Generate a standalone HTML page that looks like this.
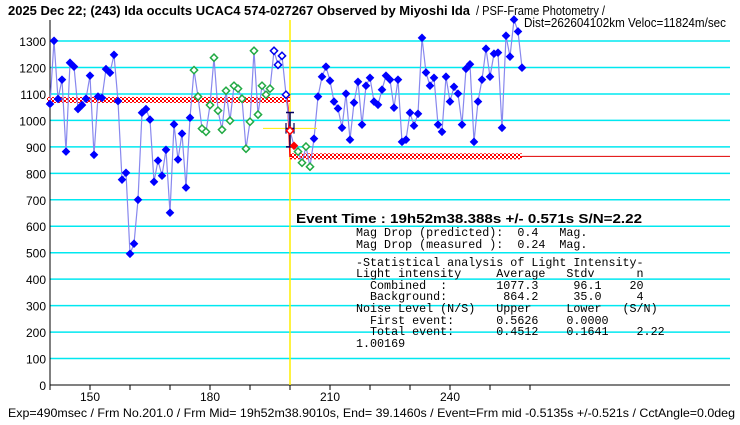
<!DOCTYPE html>
<html><head><meta charset="utf-8">
<style>
html,body{margin:0;padding:0;background:#fff;}
svg{display:block;font-family:"Liberation Sans",sans-serif;}
.mono{font-family:"Liberation Mono",monospace;font-size:11.7px;}
</style></head>
<body>
<svg id="chart" width="740" height="425" viewBox="0 0 740 425">
<text x="8" y="15" font-size="13" font-weight="bold" textLength="462" lengthAdjust="spacingAndGlyphs">2025 Dec 22; (243) Ida occults UCAC4 574-027267 Observed by Miyoshi Ida</text>
<text x="476" y="15" font-size="12.5" textLength="129" lengthAdjust="spacingAndGlyphs">/ PSF-Frame Photometry /</text>
<text x="524" y="27" font-size="12.5" textLength="202" lengthAdjust="spacingAndGlyphs">Dist=262604102km Veloc=11824m/sec</text>
<g id="grid"></g>
<g id="axes"></g>
<g id="levels"></g>
<g id="series"></g>
<g id="info">
<text x="296" y="223" font-size="13" font-weight="bold" textLength="346" lengthAdjust="spacingAndGlyphs">Event Time : 19h52m38.388s  +/- 0.571s  S/N=2.22</text>
<text class="mono" x="356" y="236" xml:space="preserve">Mag Drop (predicted):  0.4   Mag.</text>
<text class="mono" x="356" y="248" xml:space="preserve">Mag Drop (measured ):  0.24  Mag.</text>
<text class="mono" x="356" y="266" xml:space="preserve">-Statistical analysis of Light Intensity-</text>
<text class="mono" x="356" y="277" xml:space="preserve">Light intensity     Average   Stdv      n</text>
<text class="mono" x="356" y="289" xml:space="preserve">  Combined  :       1077.3     96.1    20</text>
<text class="mono" x="356" y="300" xml:space="preserve">  Background:        864.2     35.0     4</text>
<text class="mono" x="356" y="312" xml:space="preserve">Noise Level (N/S)   Upper     Lower   (S/N)</text>
<text class="mono" x="356" y="324" xml:space="preserve">  First event:      0.5626    0.0000</text>
<text class="mono" x="356" y="335" xml:space="preserve">  Total event:      0.4512    0.1641    2.22</text>
<text class="mono" x="356" y="347" xml:space="preserve">1.00169</text>
</g>
<text x="8" y="417" font-size="12" textLength="727" lengthAdjust="spacingAndGlyphs">Exp=490msec / Frm No.201.0 / Frm Mid= 19h52m38.9010s,  End= 39.1460s / Event=Frm mid -0.5135s +/-0.521s / CctAngle=0.0deg</text>
</svg>
<script>
const frames = [140,141,142,143,144,145,146,147,148,149,150,151,152,153,154,155,156,157,158,159,160,161,162,163,164,165,166,167,168,169,170,171,172,173,174,175,176,177,178,179,180,181,182,183,184,185,186,187,188,189,190,191,192,193,194,195,196,197,198,199,200,201,202,203,204,205,206,207,208,209,210,211,212,213,214,215,216,217,218,219,220,221,222,223,224,225,226,227,228,229,230,231,232,233,234,235,236,237,238,239,240,241,242,243,244,245,246,247,248,249,250,251,252,253,254,255,256,257,258];
const intensity = [1062,1301,1081,1154,882,1218,1203,1043,1058,1082,1169,870,1090,1085,1194,1180,1248,1073,776,802,496,534,700,1029,1043,1003,768,848,791,889,651,985,852,950,746,1010,1190,1090,969,957,1058,1237,1037,965,1112,999,1131,1120,1082,893,995,1263,1022,1131,1097,1120,1263,1210,1244,1097,961,904,882,840,901,825,931,1090,1165,1203,1150,1071,1045,972,1101,927,1067,1146,984,1131,1161,1071,1059,1116,1169,1154,1048,1154,919,927,1029,980,1025,1312,1181,1131,1161,984,957,1165,1071,1127,1101,984,1195,1212,919,1071,1154,1271,1165,1252,1256,972,1320,1241,1381,1336,1199];
const yTicks = [0,100,200,300,400,500,600,700,800,900,1000,1100,1200,1300];
const xTickLabels = [150,180,210,240];
const xMinorTicks = [140,150,160,170,180,190,200,210,220,230,240,250,260];
const levelBefore = [1077.3];
const levelAfter = [864.2];
const eventFrame = [200];

const NS='http://www.w3.org/2000/svg';
const X0=50, XR=730, YB=385, YT=20;
const xs = f => X0 + (f-140)*4;
const ys = v => YB - v*0.2646;
function mk(tag, attrs, parent){const e=document.createElementNS(NS,tag);for(const k in attrs)e.setAttribute(k,attrs[k]);parent.appendChild(e);return e;}
const grid=document.getElementById('grid'), axes=document.getElementById('axes'), levels=document.getElementById('levels'), series=document.getElementById('series');

yTicks.forEach(t=>{
  if(t>0){const g=mk('line',{x1:X0,x2:XR,y1:ys(t),y2:ys(t),stroke:'#00e8f0','stroke-width':1.5},grid);
  
  }
  const l=mk('text',{x:46,y:ys(t)+5,'font-size':12,'text-anchor':'end'},axes);
  l.textContent=t;
  
  
});
const ya=mk('line',{x1:X0,x2:X0,y1:YT,y2:YB,stroke:'#000','stroke-width':1},axes);


const xa=mk('line',{x1:X0,x2:XR,y1:YB,y2:YB,stroke:'#000','stroke-width':1},axes);


xMinorTicks.forEach(f=>{const t=mk('line',{x1:xs(f),x2:xs(f),y1:YB,y2:YB+5,stroke:'#000'},axes);
  
  });
xTickLabels.forEach(f=>{const l=mk('text',{x:xs(f),y:401,'font-size':12,'text-anchor':'middle'},axes);
  l.textContent=f;
  
  });

const ev=mk('line',{x1:xs(eventFrame[0]),x2:xs(eventFrame[0]),y1:YT,y2:YB,stroke:'#ffee00','stroke-width':1.5},levels);



const defs=mk('defs',{},levels);
const pat=mk('pattern',{id:'chk',width:4,height:4,patternUnits:'userSpaceOnUse'},defs);
mk('rect',{width:4,height:4,fill:'#fff'},pat);
mk('rect',{width:2,height:2,fill:'#ff0000'},pat);
mk('rect',{x:2,y:2,width:2,height:2,fill:'#ff0000'},pat);
const yb=ys(levelBefore[0]), ya2=ys(levelAfter[0]), xe=xs(eventFrame[0]), xl=xs(frames[frames.length-1]);
const b1=mk('rect',{x:47,y:yb-3,width:xe-47,height:6,fill:'url(#chk)'},levels);


const b2=mk('rect',{x:xe,y:ya2-3,width:xl-xe,height:6,fill:'url(#chk)'},levels);


const tail=mk('line',{x1:xl,x2:XR,y1:ya2,y2:ya2,stroke:'#e00000','stroke-width':1},levels);


const drop=mk('path',{d:`M${xe-3},${yb} L${xe-2},${yb+8} L${xe},${ya2} L${xe+2},${ya2}`,stroke:'#ff0000','stroke-width':1.5,fill:'none'},levels);



let d='';
frames.forEach((f,i)=>{d+=(i?'L':'M')+xs(f)+','+ys(intensity[i]);});
const ln=mk('path',{d:d,stroke:'#8888ee','stroke-width':1.2,fill:'none'},series);



const eb=mk('path',{d:`M${xe-4},${ys(1030)}H${xe+4}M${xe},${ys(1030)}V${ys(900)}M${xe-4},${ys(900)}H${xe+4}`,stroke:'#000060','stroke-width':1.5,fill:'none'},series);


const hb=mk('line',{x1:263,x2:317,y1:ys(970),y2:ys(970),stroke:'#ffee00','stroke-width':1},series);


const hb2=mk('path',{d:`M${xe-4},${ys(990)}V${ys(950)}M${xe+4},${ys(990)}V${ys(950)}M${xe-4},${ys(970)}H${xe+4}`,stroke:'#000060','stroke-width':1.2,fill:'none'},series);



function style(f){
  if(f>=176&&f<=195) return ['#22aa44',false];
  if(f>=196&&f<=199) return ['#0000ee',false];
  if(f===200) return ['#ff0000',false];
  if(f===201) return ['#ff0000',true];
  if(f>=202&&f<=205) return ['#22aa44',false];
  return ['#0000ff',true];
}
frames.forEach((f,i)=>{
  const x=xs(f), y=ys(intensity[i]); const [c,filled]=style(f); const r=3.6;
  const p=mk('path',{d:`M${x},${y-r}L${x+r},${y}L${x},${y+r}L${x-r},${y}Z`,fill:filled?c:'#fff',stroke:c,'stroke-width':filled?1:1.5},series);
  
  
});
</script>
</body></html>
